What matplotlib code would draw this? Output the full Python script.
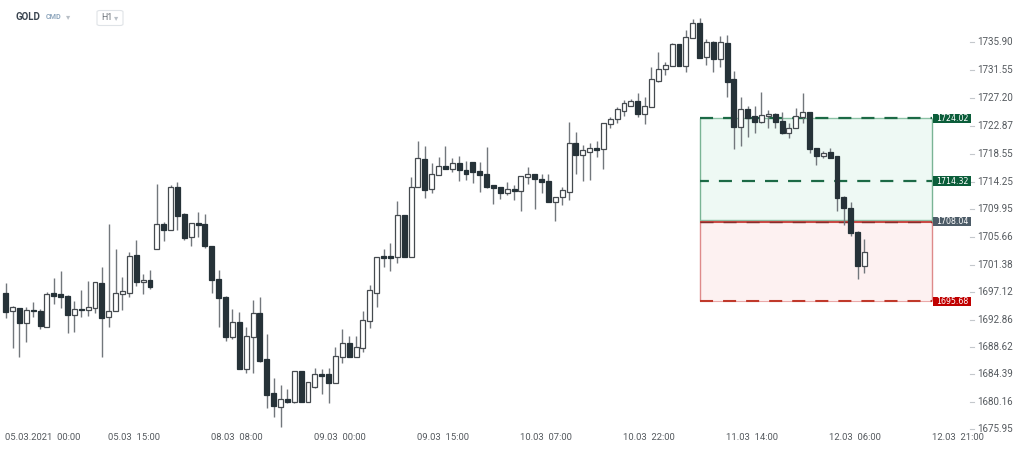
import matplotlib
matplotlib.use('Agg')
import matplotlib.pyplot as plt
from matplotlib.patches import Rectangle, FancyBboxPatch
import numpy as np

plt.rcParams['lines.scale_dashes'] = False

# ---------------- data (GOLD, H1) ----------------
opens = [
    1696.94, 1694.16, 1694.62, 1692.39, 1694.40, 1694.25, 1691.77, 1696.94, 1696.79, 1696.57,
    1693.54, 1694.46, 1694.35, 1694.67, 1698.49, 1693.28, 1694.25, 1696.88, 1696.99, 1702.87,
    1698.69, 1699.00, 1703.85, 1707.67, 1706.79, 1713.40, 1709.17, 1705.69, 1707.83, 1707.72,
    1704.31, 1699.15, 1696.37, 1690.22, 1692.45, 1685.27, 1690.22, 1693.85, 1686.77, 1681.46,
    1679.39, 1680.53, 1680.07, 1684.87, 1680.07, 1682.48, 1684.45, 1684.41, 1683.01, 1687.13,
    1689.20, 1687.13, 1688.52, 1692.65, 1697.04, 1702.72, 1702.72, 1702.61, 1709.11, 1702.61,
    1713.35, 1717.73, 1713.05, 1715.26, 1716.68, 1716.17, 1717.07, 1716.01, 1717.23, 1715.87,
    1715.41, 1713.67, 1713.45, 1712.52, 1713.09, 1712.73, 1714.95, 1715.37, 1714.64, 1714.33,
    1711.03, 1711.81, 1712.58, 1720.17, 1718.36, 1718.90, 1719.49, 1719.24, 1723.11, 1723.89,
    1725.22, 1725.99, 1726.77, 1724.66, 1725.84, 1729.86, 1731.63, 1732.14, 1735.50, 1732.18,
    1736.43, 1738.84, 1733.48, 1735.81, 1733.17, 1735.74, 1730.08, 1722.74, 1725.48, 1724.40,
    1723.52, 1724.40, 1724.71, 1723.64, 1721.72, 1722.49, 1724.29, 1724.97, 1719.44, 1718.14,
    1718.76, 1718.13, 1711.90, 1710.10, 1706.49, 1701.22]
highs = [
    1698.59, 1695.02, 1694.72, 1694.87, 1695.55, 1694.46, 1697.19, 1699.26, 1700.40, 1696.67,
    1695.75, 1697.46, 1698.80, 1698.69, 1700.97, 1707.63, 1703.76, 1699.42, 1703.39, 1705.20,
    1699.88, 1700.55, 1713.82, 1708.03, 1713.71, 1714.23, 1709.33, 1707.83, 1709.49, 1709.17,
    1704.31, 1700.55, 1696.57, 1694.51, 1694.02, 1691.68, 1695.91, 1696.32, 1690.62, 1683.86,
    1682.68, 1682.07, 1684.96, 1684.87, 1683.16, 1685.33, 1685.23, 1685.43, 1688.68, 1691.37,
    1690.38, 1690.38, 1694.20, 1698.23, 1702.61, 1703.76, 1704.78, 1711.28, 1709.11, 1715.00,
    1720.46, 1719.68, 1717.07, 1717.98, 1719.68, 1717.89, 1718.13, 1717.47, 1717.23, 1717.23,
    1719.59, 1713.67, 1713.45, 1714.13, 1713.71, 1715.10, 1716.53, 1715.37, 1715.37, 1715.41,
    1711.90, 1713.45, 1723.52, 1721.98, 1719.98, 1720.23, 1720.46, 1723.26, 1724.19, 1725.84,
    1726.87, 1726.98, 1727.91, 1727.38, 1732.03, 1734.35, 1732.80, 1735.65, 1735.50, 1737.71,
    1739.42, 1739.52, 1736.37, 1736.06, 1736.78, 1736.94, 1731.36, 1727.29, 1726.00, 1725.95,
    1728.16, 1725.32, 1724.91, 1724.97, 1723.26, 1725.59, 1727.91, 1724.97, 1719.44, 1719.03,
    1719.44, 1718.13, 1712.06, 1711.13, 1706.64, 1705.39]
lows = [
    1693.18, 1688.52, 1687.13, 1689.36, 1693.34, 1691.46, 1691.77, 1695.29, 1694.72, 1690.84,
    1690.95, 1693.34, 1693.49, 1693.94, 1687.13, 1691.68, 1694.25, 1694.35, 1696.42, 1698.12,
    1696.88, 1697.56, 1703.85, 1705.09, 1706.74, 1706.74, 1705.20, 1704.27, 1705.72, 1703.96,
    1697.04, 1691.68, 1689.51, 1689.87, 1685.27, 1684.56, 1684.56, 1686.35, 1679.14, 1677.84,
    1676.27, 1680.00, 1679.91, 1680.07, 1680.07, 1682.24, 1681.31, 1679.91, 1683.01, 1686.11,
    1687.04, 1687.04, 1687.90, 1691.52, 1694.87, 1701.06, 1700.40, 1701.67, 1702.61, 1702.61,
    1713.35, 1711.75, 1712.43, 1715.26, 1716.12, 1715.77, 1714.38, 1714.49, 1713.99, 1712.57,
    1713.20, 1710.77, 1711.50, 1712.16, 1711.39, 1709.69, 1713.82, 1710.00, 1712.52, 1711.03,
    1708.09, 1710.57, 1711.39, 1715.41, 1714.38, 1714.49, 1718.04, 1716.12, 1722.49, 1723.36,
    1724.39, 1725.99, 1724.29, 1723.13, 1725.84, 1729.71, 1730.74, 1732.14, 1732.14, 1731.16,
    1736.43, 1733.33, 1732.29, 1731.26, 1732.03, 1727.29, 1719.24, 1719.68, 1721.10, 1721.77,
    1723.27, 1722.49, 1722.49, 1721.61, 1721.04, 1722.49, 1723.36, 1718.60, 1716.81, 1717.89,
    1717.83, 1709.69, 1707.52, 1705.86, 1699.12, 1700.15]
closes = [
    1694.10, 1694.82, 1692.39, 1694.31, 1694.16, 1691.88, 1696.84, 1696.57, 1696.42, 1693.54,
    1694.51, 1694.31, 1694.78, 1698.64, 1693.18, 1694.25, 1697.04, 1697.30, 1702.72, 1698.74,
    1699.00, 1697.87, 1707.67, 1706.79, 1713.40, 1708.96, 1705.53, 1707.78, 1707.57, 1704.27,
    1698.95, 1696.17, 1690.22, 1692.50, 1685.27, 1690.38, 1693.85, 1686.51, 1681.20, 1679.50,
    1680.53, 1680.16, 1684.87, 1680.07, 1683.16, 1684.45, 1684.14, 1683.01, 1687.24, 1689.20,
    1687.13, 1688.58, 1692.81, 1697.41, 1702.61, 1702.46, 1702.46, 1709.11, 1702.61, 1713.45,
    1717.89, 1712.94, 1715.37, 1716.61, 1716.12, 1717.07, 1716.06, 1715.45, 1715.77, 1715.26,
    1713.45, 1713.29, 1712.52, 1713.14, 1712.78, 1715.10, 1715.37, 1714.65, 1714.13, 1711.03,
    1711.90, 1712.89, 1720.17, 1718.36, 1719.06, 1719.44, 1719.13, 1723.26, 1723.97, 1725.43,
    1726.36, 1726.77, 1724.66, 1725.99, 1730.08, 1731.67, 1732.25, 1735.54, 1732.14, 1736.67,
    1738.84, 1733.33, 1735.85, 1733.17, 1735.90, 1729.71, 1722.74, 1725.48, 1724.04, 1723.52,
    1724.51, 1724.71, 1723.52, 1721.81, 1722.59, 1724.45, 1724.97, 1719.29, 1718.14, 1718.67,
    1717.83, 1711.75, 1710.20, 1706.23, 1701.17, 1703.29]

x_tick_pos = [0, 15, 30, 45, 60, 75, 90, 105, 120, 135]
x_tick_labels = ["05.03.2021  00:00", "05.03  15:00", "08.03  08:00", "09.03  00:00",
                 "09.03  15:00", "10.03  07:00", "10.03  22:00", "11.03  14:00",
                 "12.03  06:00", "12.03  21:00"]
y_tick_values = [1735.90, 1731.55, 1727.20, 1722.87, 1718.55, 1714.25, 1709.95, 1705.66,
                 1701.38, 1697.12, 1692.86, 1688.62, 1684.39, 1680.16, 1675.95]

tp_level = 1724.02
mid_level = 1714.32
entry_level = 1708.04
sl_level = 1695.68
zone_start = 101
zone_end = 134.8

# ---------------- figure ----------------
W, H = 1024, 450
fig = plt.figure(figsize=(W / 100, H / 100), dpi=100)
fig.patch.set_facecolor('white')
ax = fig.add_axes([0, 0, 1, 1])
ax.set_axis_off()
ax.set_xlim(-0.83, 148.22)
ax.set_ylim(1672.68, 1742.36)

o = np.array(opens); h = np.array(highs); l = np.array(lows); c = np.array(closes)
idx = np.arange(len(o))
bull = c >= o
heights = np.maximum(np.abs(c - o), 0.2)
bottoms = np.minimum(o, c)

# zones
ax.add_patch(Rectangle((zone_start, entry_level), zone_end - zone_start, tp_level - entry_level,
                       facecolor='#eef9f4', edgecolor='none', zorder=1))
ax.add_patch(Rectangle((zone_start, sl_level), zone_end - zone_start, entry_level - sl_level,
                       facecolor='#fdf1f1', edgecolor='none', zorder=1))
ax.vlines([zone_start, zone_end], entry_level, tp_level, color='#7ab495', lw=1.0, zorder=2)
ax.vlines([zone_start, zone_end], sl_level, entry_level, color='#de8a8a', lw=1.0, zorder=2)

ax.hlines(tp_level, zone_start, zone_end, color='#8cc2a6', lw=1.0, zorder=2)
ax.hlines(tp_level, zone_start, zone_end, color='#1c6a46', lw=1.6, zorder=2,
          linestyles=[(0, (9.4, 7.2))])
ax.hlines(mid_level, zone_start, zone_end, color='#1c6a46', lw=1.6, zorder=2,
          linestyles=[(3, (9.4, 7.2))])
ax.hlines(entry_level + 0.25, zone_start, zone_end, color='#8cc2a6', lw=1.0, zorder=2)
ax.hlines(entry_level, zone_start, zone_end, color='#c84a45', lw=1.5, zorder=2)
ax.hlines(entry_level, zone_start, zone_end, color='#8a2c2a', lw=1.0, zorder=2,
          linestyles=[(0, (9.4, 7.2))])
ax.hlines(sl_level, zone_start, zone_end, color='#eba9a9', lw=0.8, zorder=2)
ax.hlines(sl_level, zone_start, zone_end, color='#c0392b', lw=1.5, zorder=2,
          linestyles=[(0, (9.4, 7.2))])

# candles
ax.vlines(idx, l, h, color='#72777c', lw=1.0, zorder=3)
ax.bar(idx[bull], heights[bull], bottom=bottoms[bull], width=0.72,
       facecolor='white', edgecolor='#454a4f', linewidth=0.9, zorder=4)
ax.bar(idx[~bull], heights[~bull], bottom=bottoms[~bull], width=0.72,
       facecolor='#263238', edgecolor='#263238', linewidth=0.9, zorder=4)

# right price labels
xfrac = ax.get_yaxis_transform()
box_h = 1.5
for val, col in [(tp_level, '#0b5d3a'), (mid_level, '#0b5d3a'),
                 (entry_level, '#4c5b67'), (sl_level, '#c00000')]:
    ax.add_patch(Rectangle((933 / W, val - box_h / 2), 38 / W, box_h, transform=xfrac,
                           facecolor=col, edgecolor='none', zorder=6, clip_on=False))
    ax.text(952 / W, val, f"{val:.2f}", transform=xfrac, ha='center', va='center',
            fontsize=5.7, color='white', family='DejaVu Sans', zorder=7)

# y ticks
for v in y_tick_values:
    ax.plot([970 / W, 974 / W], [v, v], transform=xfrac, color='#c4c8cc', lw=0.8, clip_on=False)
    ax.text(977 / W, v, f"{v:.2f}", transform=xfrac, ha='left', va='center',
            fontsize=7.1, color='#555a5f', family='Roboto')

# x ticks
xt = ax.get_xaxis_transform()
for pos, lab in zip(x_tick_pos, x_tick_labels):
    ax.text(pos - 0.1, 1 - 437 / H, lab, transform=xt, ha='left', va='center',
            fontsize=6.8, color='#555a5f', family='Roboto')

# header
fig.text(16 / W, 1 - 17 / H, 'GOLD', fontsize=7, fontweight='bold', color='#3b4550',
         va='center', ha='left', family='Roboto')
fig.text(46 / W, 1 - 17 / H, 'CMD', fontsize=5.2, fontweight='bold', color='#8ea6bd',
         va='center', ha='left', family='Roboto')
fig.text(66 / W, 1 - 16.5 / H, '▾', fontsize=6, color='#b8bfc6', va='center', ha='left')
fig.add_artist(FancyBboxPatch((97 / W, 1 - 25.5 / H), 26 / W, 15 / H,
                              boxstyle='round,pad=0,rounding_size=0.003',
                              transform=fig.transFigure, facecolor='white',
                              edgecolor='#dfe3e7', lw=0.8))
fig.text(101 / W, 1 - 18 / H, 'H1', fontsize=6.3, color='#6a7077', va='center', ha='left',
         family='Roboto')
fig.text(114 / W, 1 - 17.5 / H, '▾', fontsize=6, color='#b8bfc6', va='center', ha='left')

fig.savefig('out.png', dpi=100, facecolor='white')
